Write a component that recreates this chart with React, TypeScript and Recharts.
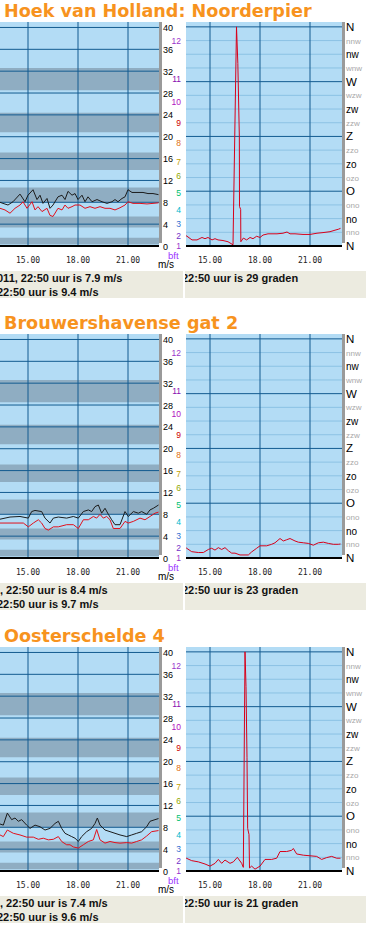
import React from 'react';
import { LineChart, Line, XAxis, YAxis, ReferenceArea, ReferenceLine } from 'recharts';

const STATIONS = ['Hoek van Holland: Noorderpier', 'Brouwershavense gat 2', 'Oosterschelde 4'];

// axis ticks
const TIME_TICKS = [15, 18, 21];
const MS_TICKS = [0, 4, 8, 12, 16, 20, 24, 28, 32, 36, 40];
const BFT_LABELS = ['12', '11', '10', '9', '8', '7', '6', '5', '4', '3', '2', '1'];
const BFT_POS = [37.6, 30.5, 26.4, 22.6, 18.9, 15.4, 12.8, 9.7, 6.6, 4.0, 1.8, 0.05];
const BFT_COLORS = ['#9933cc', '#8a10b0', '#b010c0', '#cc0000', '#e07010', '#c0a000', '#90a800', '#00c070', '#00b8cc', '#3070d0', '#7030c8', '#9933cc'];
// odd beaufort classes are drawn darker
const BAND_LOW = [0.3, 3.4, 8.0, 13.9, 20.8, 28.5];
const BAND_HIGH = [1.5, 5.4, 10.7, 17.1, 24.4, 32.6];
const DIR_TICKS = [0, 22.5, 45, 67.5, 90, 112.5, 135, 157.5, 180, 202.5, 225, 247.5, 270, 292.5, 315, 337.5, 360];
const DIR_NAMES = ['N', 'nno', 'no', 'ono', 'O', 'ozo', 'zo', 'zzo', 'Z', 'zzw', 'zw', 'wzw', 'W', 'wnw', 'nw', 'nnw', 'N'];

// Hoek van Holland (time in decimal hours)
const hvhGustT = [13.32, 13.5, 13.8, 14.1, 14.52, 14.82, 15.0, 15.3, 15.54, 15.72, 15.9, 16.14, 16.32, 16.5, 16.8, 17.04, 17.22, 17.4, 17.64, 17.82, 18.0, 18.24, 18.42, 18.6, 18.84, 19.14, 19.44, 19.74, 20.04, 20.22, 20.4, 20.64, 20.82, 21.0, 21.24, 21.54, 21.9, 22.2, 22.5, 22.83];
const hvhGust = [8.0, 7.8, 7.5, 8.1, 9.5, 8.1, 9.3, 10.3, 8.5, 9.3, 7.8, 8.7, 6.9, 7.5, 9.0, 9.3, 8.5, 10.0, 9.3, 9.6, 8.5, 9.3, 8.1, 9.0, 8.1, 8.5, 8.1, 7.8, 8.1, 8.5, 8.1, 8.7, 9.0, 10.3, 9.8, 9.8, 9.8, 9.6, 9.6, 9.4];
const hvhAvgT = [13.32, 13.62, 13.92, 14.22, 14.52, 14.7, 14.94, 15.24, 15.42, 15.6, 15.84, 16.14, 16.32, 16.5, 16.8, 17.04, 17.22, 17.4, 17.64, 17.82, 18.12, 18.42, 18.72, 19.02, 19.32, 19.62, 19.92, 20.22, 20.52, 20.82, 21.0, 21.3, 21.72, 22.14, 22.5, 22.83];
const hvhAvg = [6.9, 6.6, 6.0, 6.9, 7.5, 8.1, 6.9, 8.1, 6.6, 7.2, 6.3, 6.9, 5.6, 5.4, 6.9, 6.6, 7.5, 6.9, 7.2, 7.5, 7.5, 6.9, 7.2, 6.9, 7.2, 6.9, 6.9, 6.6, 7.0, 7.5, 8.1, 7.8, 7.8, 7.7, 7.8, 7.9];
const hvhDirT = [13.5, 13.62, 13.92, 14.22, 14.52, 14.7, 14.88, 15.12, 15.3, 15.48, 15.78, 16.08, 16.38, 16.59, 16.67, 16.76, 16.77, 16.84, 16.85, 17.0, 17.2, 17.4, 17.58, 17.8, 18.0, 18.18, 18.48, 19.02, 19.38, 19.62, 19.8, 20.1, 20.58, 21.0, 21.42, 21.78, 22.2, 22.5, 22.7, 22.83];
const hvhDir = [18, 16, 10, 10, 14, 12, 14, 10, 12, 10, 9, 7, 2, 360, 300, 180, 65, 60, 7, 13, 10, 14, 12, 16, 14, 18, 20, 20, 21, 23, 20, 20, 19, 19, 21, 22, 23.5, 26, 27.5, 29];

// Brouwershavense gat 2
const bhgGustT = [13.32, 13.92, 14.52, 15.02, 15.22, 15.42, 15.82, 16.02, 16.32, 16.52, 16.82, 17.32, 17.72, 18.02, 18.32, 18.62, 18.82, 19.02, 19.22, 19.42, 19.62, 19.82, 20.02, 20.22, 20.52, 20.82, 21.02, 21.32, 21.62, 21.82, 22.12, 22.32, 22.52, 22.83];
const bhgGust = [7.1, 7.5, 7.6, 7.3, 8.5, 8.7, 8.5, 7.3, 6.4, 7.3, 7.5, 7.3, 7.6, 7.3, 8.5, 8.8, 8.5, 9.4, 9.7, 8.2, 9.1, 8.0, 7.0, 6.1, 6.1, 8.5, 7.6, 8.5, 8.2, 8.5, 8.0, 8.8, 9.1, 9.7];
const bhgAvgT = [13.32, 14.72, 15.02, 15.32, 15.62, 15.82, 16.02, 16.22, 16.52, 16.82, 17.32, 17.72, 18.02, 18.32, 18.62, 18.92, 19.12, 19.32, 19.52, 19.72, 19.92, 20.12, 20.52, 20.82, 21.02, 21.32, 21.72, 22.02, 22.32, 22.62, 22.83];
const bhgAvg = [6.4, 6.4, 5.7, 6.4, 7.0, 6.4, 5.4, 5.1, 5.7, 5.7, 6.1, 6.1, 5.4, 7.0, 7.0, 7.6, 7.3, 8.0, 7.3, 7.6, 7.0, 5.4, 5.4, 6.7, 6.4, 6.7, 7.3, 7.0, 7.6, 8.2, 8.4];
const bhgDirT = [13.5, 13.6, 13.9, 14.3, 14.6, 14.9, 15.1, 15.3, 15.5, 15.7, 15.9, 16.1, 16.3, 16.5, 16.8, 17.1, 17.3, 17.5, 17.8, 18.0, 18.4, 18.7, 18.9, 19.2, 19.4, 19.6, 19.8, 20.1, 20.3, 20.6, 20.9, 21.2, 21.5, 21.8, 22.1, 22.4, 22.7, 22.83];
const bhgDir = [18, 16, 10.4, 9, 9, 14, 16, 13, 17, 14, 17, 12, 8, 8, 5, 5, 5, 10, 16, 20, 20, 22.5, 25, 32, 28, 30, 32, 28, 26, 25, 24, 21, 25, 26, 24, 22.5, 22.5, 23];

// Oosterschelde 4
const osGustT = [13.32, 13.52, 13.76, 14.02, 14.22, 14.42, 14.62, 14.92, 15.12, 15.42, 15.72, 16.02, 16.32, 16.62, 16.82, 17.02, 17.22, 17.42, 17.62, 17.82, 18.02, 18.22, 18.52, 18.82, 19.02, 19.16, 19.32, 19.62, 19.92, 20.22, 20.52, 20.92, 21.22, 21.52, 21.82, 22.12, 22.32, 22.62, 22.83];
const osGust = [8.6, 8.4, 10.6, 9.4, 9.7, 9.1, 9.4, 8.4, 7.8, 8.4, 8.1, 7.5, 7.8, 8.7, 9.1, 7.8, 6.9, 6.6, 6.3, 6.0, 5.4, 6.3, 7.2, 7.8, 8.7, 9.7, 8.4, 7.5, 7.2, 6.9, 6.6, 6.3, 6.6, 6.9, 7.2, 8.1, 9.1, 9.4, 9.6];
const osAvgT = [13.32, 13.52, 13.76, 14.12, 14.52, 14.92, 15.32, 15.62, 15.92, 16.22, 16.52, 16.82, 17.02, 17.32, 17.52, 17.72, 18.02, 18.32, 18.62, 18.92, 19.12, 19.32, 19.62, 19.92, 20.22, 20.52, 20.92, 21.22, 21.52, 21.82, 22.12, 22.42, 22.83];
const osAvg = [6.6, 6.3, 7.5, 6.9, 6.6, 6.2, 6.2, 5.8, 6.0, 5.7, 5.8, 6.3, 5.4, 4.8, 4.8, 4.4, 4.2, 4.8, 5.4, 5.7, 7.6, 5.7, 5.1, 5.4, 5.2, 5.1, 5.2, 5.1, 5.4, 5.7, 6.4, 7.2, 7.4];
const osDirT = [13.5, 13.6, 13.9, 14.3, 14.7, 15.0, 15.3, 15.5, 15.7, 15.9, 16.2, 16.4, 16.64, 16.9, 17.0, 17.1, 17.16, 17.22, 17.26, 17.34, 17.37, 17.5, 17.7, 18.0, 18.3, 18.7, 19.0, 19.2, 19.6, 19.9, 20.0, 20.2, 20.6, 21.0, 21.4, 21.7, 22.0, 22.3, 22.6, 22.83];
const osDir = [20, 20.8, 17, 15, 11.5, 8, 12.6, 19, 12.6, 18, 12.6, 15, 22.5, 12.6, 6, 360, 303, 186, 70, 60, 5, 8, 3, 8, 19, 19, 21, 32, 32, 34, 37, 28, 26, 25, 24, 19, 22, 24, 21, 21];

const SPEED_LINE_1 = ['011, 22:50 uur is 7.9 m/s', ', 22:50 uur is 8.4 m/s', ', 22:50 uur is 7.4 m/s'];
const SPEED_LINE_2 = ['22:50 uur is 9.4 m/s', '22:50 uur is 9.7 m/s', '22:50 uur is 9.6 m/s'];
const DIR_LINE = ['22:50 uur is 29 graden', '22:50 uur is 23 graden', '22:50 uur is 21 graden'];

const PANEL_TOP = [0, 312, 625];

const LIGHT = '#b3dcf5';
const DARK = '#8fadc2';
const GRID = '#135b90';
const MINOR = '#8cc2e4';
const LABEL_FONT = "'Liberation Sans', Arial, sans-serif";

// m/s ticks and beaufort labels share the right axis
const SPEED_AXIS_TICKS = [...MS_TICKS, ...BFT_POS];

const zip = (t: number[], v: number[]) => t.map((x, i) => ({ t: x, v: v[i] }));

const PANELS = [
  { gust: zip(hvhGustT, hvhGust), avg: zip(hvhAvgT, hvhAvg), dir: zip(hvhDirT, hvhDir) },
  { gust: zip(bhgGustT, bhgGust), avg: zip(bhgAvgT, bhgAvg), dir: zip(bhgDirT, bhgDir) },
  { gust: zip(osGustT, osGust), avg: zip(osAvgT, osAvg), dir: zip(osDirT, osDir) },
];

const TimeTick = (p: any) => (
  <text x={p.x} y={p.y + 17} textAnchor="middle" fontFamily="'DejaVu Sans Mono', monospace" fontSize={8} fill="#222">
    {p.payload.value + '.00'}
  </text>
);

const SpeedTick = (p: any) => {
  if (p.index < MS_TICKS.length) {
    return (
      <text x={p.x} y={p.y + 3.5} fontFamily={LABEL_FONT} fontSize={9} fill="#000">
        {MS_TICKS[p.index]}
      </text>
    );
  }
  const b = p.index - MS_TICKS.length;
  return (
    <text x={p.x + 18} y={p.y + 3} textAnchor="end" fontFamily={LABEL_FONT} fontSize={8.5} fill={BFT_COLORS[b]}>
      {BFT_LABELS[b]}
    </text>
  );
};

const DirTick = (p: any) => {
  const major = p.index % 2 === 0;
  const name = DIR_NAMES[p.index];
  const upper = name === name.toUpperCase();
  return (
    <text
      x={p.x}
      y={p.y + (major ? 4 : 3)}
      fontFamily={LABEL_FONT}
      fontSize={major ? (upper ? 11.5 : 10) : 8}
      fill={major ? '#000' : '#a8a8a8'}
    >
      {name}
    </text>
  );
};

function SpeedChart({ gust, avg }: any) {
  return (
    <LineChart width={186} height={272} margin={{ top: 22, right: 0, bottom: 0, left: 0 }}>
      <XAxis type="number" dataKey="t" domain={[13.32, 22.86]} allowDataOverflow ticks={TIME_TICKS} interval={0}
        height={26} tickSize={0} tickMargin={0} tickLine={false} axisLine={{ stroke: '#000', strokeWidth: 2 }} tick={TimeTick} />
      <YAxis yAxisId="ms" orientation="right" type="number" domain={[0, 41]} allowDataOverflow ticks={SPEED_AXIS_TICKS} interval={0}
        width={27} tickSize={0} tickMargin={4} tickLine={false} axisLine={false} tick={SpeedTick} />
      <ReferenceArea yAxisId="ms" y1={0} y2={41} fill={LIGHT} fillOpacity={1} />
      {BAND_LOW.map((lo, i) => (
        <ReferenceArea key={'b' + i} yAxisId="ms" y1={lo} y2={BAND_HIGH[i]} fill={DARK} fillOpacity={1} />
      ))}
      {MS_TICKS.map((v) => (
        <ReferenceLine key={'h' + v} yAxisId="ms" y={v} stroke={GRID} strokeWidth={1} />
      ))}
      {TIME_TICKS.map((t) => (
        <ReferenceLine key={'v' + t} yAxisId="ms" x={t} stroke={GRID} strokeWidth={1} />
      ))}
      <Line yAxisId="ms" data={gust} dataKey="v" type="linear" stroke="#1c1c1c" strokeWidth={1} dot={false} isAnimationActive={false} />
      <Line yAxisId="ms" data={avg} dataKey="v" type="linear" stroke="#e2101c" strokeWidth={1} dot={false} isAnimationActive={false} />
    </LineChart>
  );
}

function DirChart({ dir }: any) {
  return (
    <LineChart width={180} height={272} margin={{ top: 22, right: 0, bottom: 0, left: 0 }}>
      <XAxis type="number" dataKey="t" domain={[13.56, 22.92]} allowDataOverflow ticks={TIME_TICKS} interval={0}
        height={26} tickSize={0} tickMargin={0} tickLine={false} axisLine={{ stroke: '#000', strokeWidth: 2 }} tick={TimeTick} />
      <YAxis yAxisId="d" orientation="right" type="number" domain={[0, 368]} allowDataOverflow ticks={DIR_TICKS} interval={0}
        width={24} tickSize={0} tickMargin={4} tickLine={false} axisLine={false} tick={DirTick} />
      <ReferenceArea yAxisId="d" y1={0} y2={368} fill={LIGHT} fillOpacity={1} />
      {DIR_TICKS.filter((d) => d % 90 !== 0).map((d) => (
        <ReferenceLine key={'m' + d} yAxisId="d" y={d} stroke={MINOR} strokeWidth={1} />
      ))}
      {DIR_TICKS.filter((d) => d % 90 === 0).map((d) => (
        <ReferenceLine key={'h' + d} yAxisId="d" y={d} stroke={GRID} strokeWidth={1} />
      ))}
      {TIME_TICKS.map((t) => (
        <ReferenceLine key={'v' + t} yAxisId="d" x={t} stroke={GRID} strokeWidth={1} />
      ))}
      <Line yAxisId="d" data={dir} dataKey="v" type="linear" stroke="#d8001a" strokeWidth={1} dot={false} isAnimationActive={false} />
    </LineChart>
  );
}

const box: React.CSSProperties = {
  position: 'absolute',
  height: 27,
  background: '#ecebe0',
  overflow: 'hidden',
  fontFamily: LABEL_FONT,
  fontWeight: 'bold',
  fontSize: 11,
  lineHeight: '14px',
  color: '#111',
  whiteSpace: 'nowrap',
};

export default function App() {
  return (
    <div style={{ position: 'absolute', left: 0, top: 0, width: 366, height: 926, overflow: 'hidden', background: '#fff' }}>
      {PANELS.map((p, i) => {
        const top = PANEL_TOP[i];
        return (
          <React.Fragment key={i}>
            <div style={{ position: 'absolute', left: 4, top, lineHeight: '22px', fontFamily: "'DejaVu Sans', Verdana, sans-serif", fontWeight: 'bold', fontSize: 17.6, color: '#f7931e', whiteSpace: 'nowrap' }}>
              {STATIONS[i]}
            </div>
            <div style={{ position: 'absolute', left: 0, top }}>
              <SpeedChart gust={p.gust} avg={p.avg} />
            </div>
            <div style={{ position: 'absolute', left: 186, top }}>
              <DirChart dir={p.dir} />
            </div>
            <div style={{ position: 'absolute', left: 159, top: top + 22, width: 3, height: 221, background: '#9a9a9a' }} />
            <div style={{ position: 'absolute', left: 342, top: top + 22, width: 3, height: 221, background: '#9a9a9a' }} />
            <div style={{ position: 'absolute', left: 168, top: top + 251, fontFamily: LABEL_FONT, fontSize: 9.5, lineHeight: '9px', color: '#9933ff' }}>bft</div>
            <div style={{ position: 'absolute', left: 158, top: top + 260, fontFamily: LABEL_FONT, fontSize: 10, lineHeight: '10px', color: '#000' }}>m/s</div>
            <div style={{ ...box, left: 0, top: top + 271, width: 183 }}>
              <div style={{ marginLeft: i === 0 ? -3 : 0 }}>{SPEED_LINE_1[i]}</div>
              <div style={{ marginLeft: -3 }}>{SPEED_LINE_2[i]}</div>
            </div>
            <div style={{ ...box, left: 185, top: top + 271, width: 181 }}>
              <div style={{ marginLeft: -3 }}>{DIR_LINE[i]}</div>
            </div>
          </React.Fragment>
        );
      })}
    </div>
  );
}
